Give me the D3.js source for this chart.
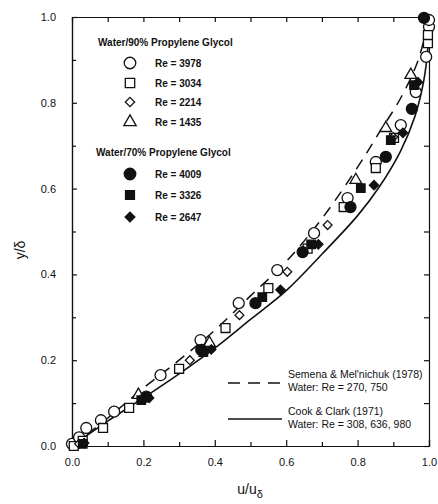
<!DOCTYPE html>
<html lang="en">
<head>
<meta charset="utf-8">
<title>Velocity profile</title>
<script src="https://cdn.jsdelivr.net/npm/d3@7"></script>
<style>
  body { margin: 0; background: #fff; }
  svg text { font-family: "Liberation Sans", Arial, Helvetica, sans-serif; fill: #111; }
  .axis path, .axis line { stroke: #111; stroke-width: 1.2; }
  .axis text { font-size: 11px; }
</style>
</head>
<body>
<script>
// series data: [u/u_delta, y/delta]
var re3978 = [[0,0.005],[0.02,0.02],[0.04,0.042],[0.081,0.06],[0.118,0.08],[0.248,0.165],[0.36,0.247],[0.467,0.333],[0.575,0.41],[0.678,0.496],[0.772,0.578],[0.851,0.662],[0.921,0.748],[0.963,0.825],[0.992,0.907],[1.0,0.977],[1.0,0.993]];
var re3034 = [[0.005,0.0],[0.03,0.012],[0.087,0.042],[0.16,0.089],[0.30,0.18],[0.43,0.275],[0.55,0.368],[0.66,0.46],[0.761,0.557],[0.851,0.648],[0.902,0.718],[0.997,0.939],[0.997,0.958]];
var re2214 = [[0.02,0.005],[0.33,0.2],[0.469,0.305],[0.603,0.406],[0.716,0.515],[0.9,0.72]];
var re1435 = [[0.186,0.119],[0.385,0.24],[0.795,0.62],[0.879,0.741],[0.949,0.865]];
var re4009 = [[0.208,0.115],[0.362,0.224],[0.514,0.333],[0.646,0.452],[0.78,0.557],[0.879,0.674],[0.952,0.786],[0.986,0.998]];
var re3326 = [[0.03,0.005],[0.194,0.107],[0.368,0.219],[0.533,0.347],[0.67,0.47],[0.809,0.601],[0.893,0.713],[0.958,0.841]];
var re2647 = [[0.034,0.007],[0.216,0.112],[0.39,0.225],[0.584,0.364],[0.69,0.47],[0.846,0.608],[0.927,0.73],[0.969,0.848]];

// correlation curves
var semena = [[0,0],[0.1,0.065],[0.2,0.135],[0.3,0.2],[0.4,0.27],[0.5,0.35],[0.6,0.43],[0.7,0.53],[0.8,0.65],[0.86,0.73],[0.92,0.81],[0.97,0.9],[1,1]];
var cookClark = [[0,0],[0.1,0.058],[0.2,0.112],[0.3,0.168],[0.4,0.228],[0.5,0.295],[0.6,0.362],[0.7,0.447],[0.8,0.537],[0.86,0.603],[0.92,0.687],[0.96,0.767],[0.985,0.85],[0.997,0.93],[1,1]];

var majorTicks = [0, 0.2, 0.4, 0.6, 0.8, 1.0];
var minorTicks = [0.1, 0.3, 0.5, 0.7, 0.9];

var w = 438, h = 504;
var svg = d3.select("body").append("svg").attr("width", w).attr("height", h);

var x = d3.scaleLinear().domain([0, 1]).range([72, 429]);
var y = d3.scaleLinear().domain([0, 1]).range([446, 17]);

var fmt = d3.format(".1f");

// frame + ticks (all inward)
function addAxis(gen, tr, labels) {
  var g = svg.append("g").attr("class", "axis").attr("transform", tr);
  g.call(gen);
  if (!labels) g.selectAll("text").remove();
  return g;
}
addAxis(d3.axisBottom(x).tickValues(majorTicks).tickSize(-6).tickPadding(12).tickFormat(fmt), "translate(0,446)", true);
addAxis(d3.axisBottom(x).tickValues(minorTicks).tickSize(-4).tickSizeOuter(0), "translate(0,446)", false);
addAxis(d3.axisLeft(y).tickValues(majorTicks).tickSize(-5).tickPadding(16).tickFormat(fmt), "translate(72,0)", true);
addAxis(d3.axisLeft(y).tickValues(minorTicks).tickSize(-4).tickSizeOuter(0), "translate(72,0)", false);
addAxis(d3.axisTop(x).tickValues(majorTicks.concat(minorTicks)).tickSize(-5).tickSizeOuter(0), "translate(0,17)", false);
addAxis(d3.axisRight(y).tickValues(majorTicks.concat(minorTicks)).tickSize(-5).tickSizeOuter(0), "translate(429,0)", false);

// curves
var line = d3.line().x(function(d){ return x(d[0]); }).y(function(d){ return y(d[1]); }).curve(d3.curveCatmullRom.alpha(0.5));

svg.append("path").datum(semena).attr("d", line)
  .attr("fill", "none").attr("stroke", "#111").attr("stroke-width", 1.5).attr("stroke-dasharray", "11,8");
svg.append("path").datum(cookClark).attr("d", line)
  .attr("fill", "none").attr("stroke", "#111").attr("stroke-width", 1.6);

// markers
var series = [
  { data: re3978, shape: d3.symbolCircle, size: 95, filled: false, label: "Re = 3978" },
  { data: re3034, shape: d3.symbolSquare, size: 80, filled: false, label: "Re = 3034" },
  { data: re2214, shape: d3.symbolDiamond2, size: 50, filled: false, label: "Re = 2214" },
  { data: re1435, shape: d3.symbolTriangle, size: 60, filled: false, label: "Re = 1435" },
  { data: re4009, shape: d3.symbolCircle, size: 95, filled: true, label: "Re = 4009" },
  { data: re3326, shape: d3.symbolSquare, size: 72, filled: true, label: "Re = 3326" },
  { data: re2647, shape: d3.symbolDiamond2, size: 55, filled: true, label: "Re = 2647" }
];

series.forEach(function(s) {
  svg.append("g").selectAll("path")
    .data(s.data)
    .enter()
    .append("path")
    .attr("transform", function(d){ return "translate(" + x(d[0]) + "," + y(d[1]) + ")"; })
    .attr("d", d3.symbol().type(s.shape).size(s.size))
    .attr("fill", s.filled ? "#111" : "#fff")
    .attr("stroke", "#111")
    .attr("stroke-width", 1.3);
});

// legend, top left
var legend = svg.append("g").style("font-size", "10px").style("font-weight", "bold");
legend.append("text").attr("x", 98).attr("y", 46).text("Water/90% Propylene Glycol");
legend.append("text").attr("x", 96).attr("y", 156).text("Water/70% Propylene Glycol");
var rowsY = [63, 83, 102, 122, 174, 195, 217];
series.forEach(function(s, i) {
  legend.append("path")
    .attr("transform", "translate(130," + rowsY[i] + ")")
    .attr("d", d3.symbol().type(s.shape).size(s.size * 1.1))
    .attr("fill", s.filled ? "#111" : "#fff")
    .attr("stroke", "#111")
    .attr("stroke-width", 1.3);
  legend.append("text").attr("x", 155).attr("y", rowsY[i] + 3.5).text(s.label);
});

// legend, bottom right
var leg2 = svg.append("g").style("font-size", "10.5px");
leg2.append("line").attr("x1", 228).attr("x2", 282).attr("y1", 383).attr("y2", 383)
  .attr("stroke", "#111").attr("stroke-width", 1.5).attr("stroke-dasharray", "12,8");
leg2.append("text").attr("x", 288).attr("y", 378).text("Semena & Mel'nichuk (1978)");
leg2.append("text").attr("x", 288).attr("y", 391).text("Water:  Re = 270, 750");
leg2.append("line").attr("x1", 228).attr("x2", 282).attr("y1", 419).attr("y2", 419)
  .attr("stroke", "#111").attr("stroke-width", 1.5);
leg2.append("text").attr("x", 288).attr("y", 415).text("Cook & Clark (1971)");
leg2.append("text").attr("x", 288).attr("y", 428).text("Water:  Re = 308, 636, 980");

// axis titles
svg.append("text")
  .attr("transform", "translate(25,250) rotate(-90)")
  .attr("text-anchor", "middle")
  .style("font-size", "14px")
  .text("y/δ");
var xt = svg.append("text")
  .attr("x", 250).attr("y", 494)
  .attr("text-anchor", "middle")
  .style("font-size", "14px");
xt.append("tspan").text("u/u");
xt.append("tspan").attr("dy", 4).style("font-size", "11px").text("δ");
</script>
</body>
</html>
